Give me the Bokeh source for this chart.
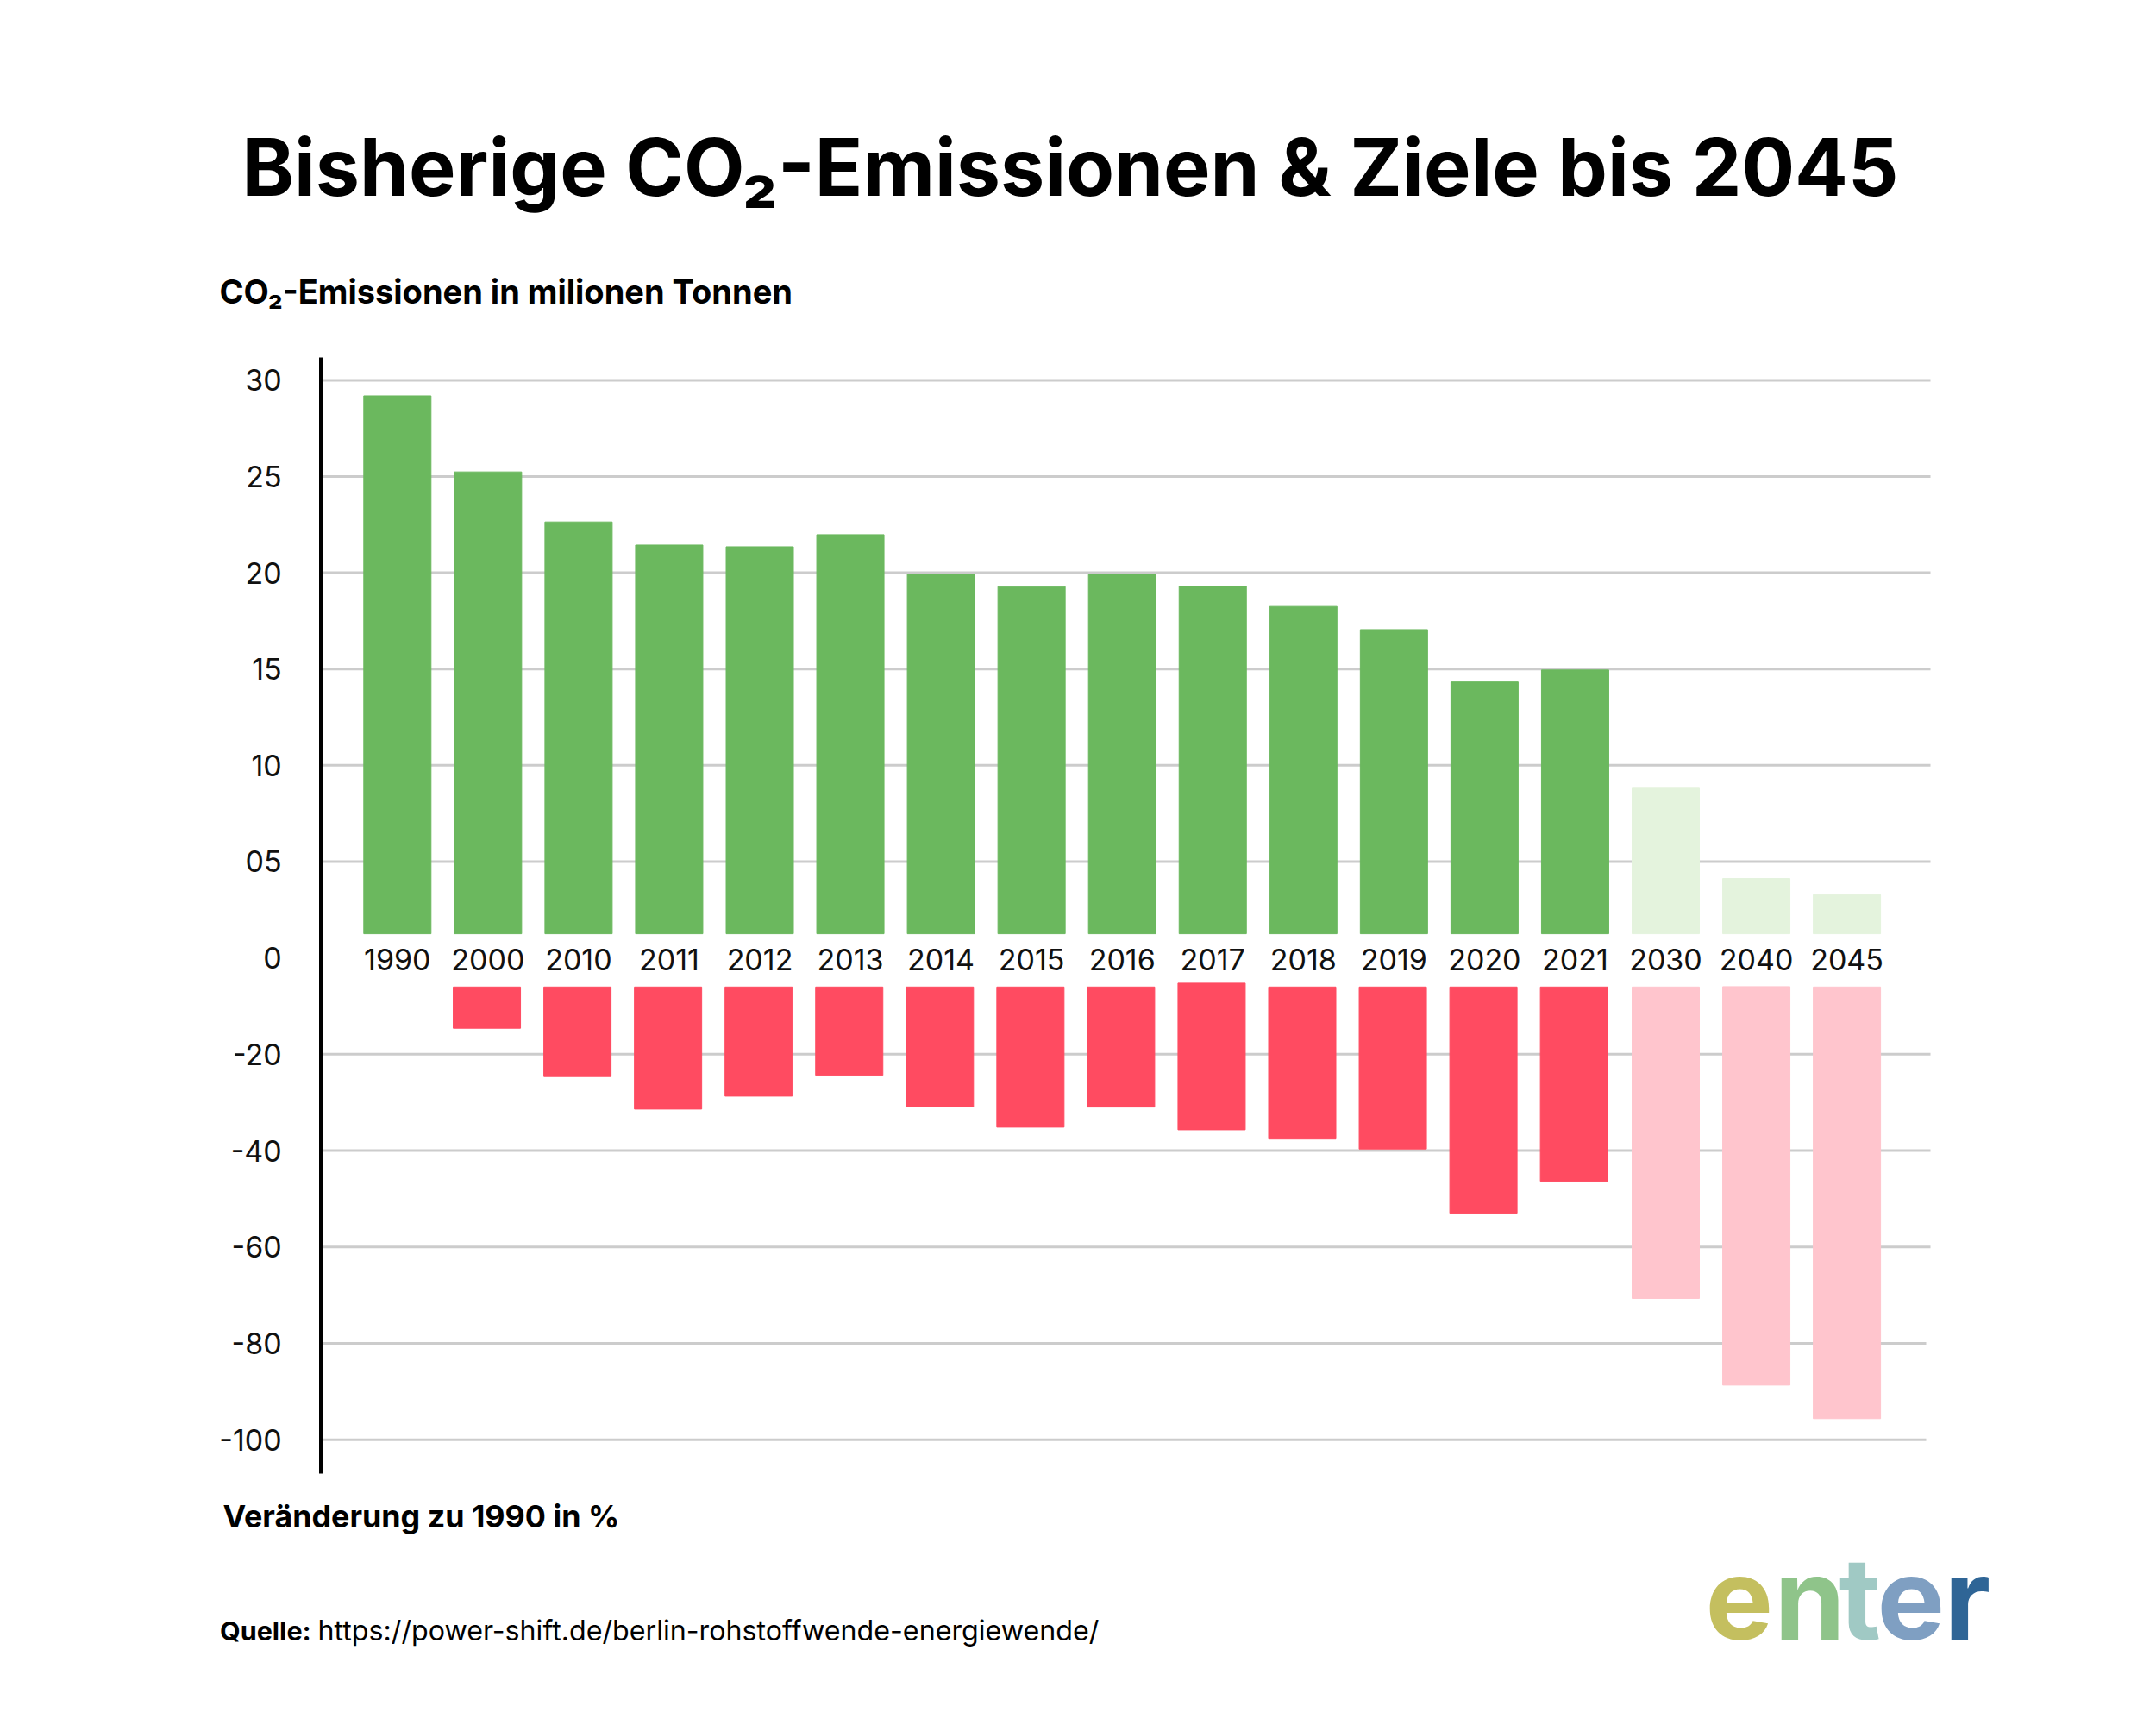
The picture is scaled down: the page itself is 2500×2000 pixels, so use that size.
from bokeh.models import ColumnDataSource, FixedTicker, Label, LinearAxis, Range1d
from bokeh.plotting import figure
from bokeh.transform import dodge
from bokeh.embed import file_html
from bokeh.resources import INLINE

# ---- data ----
years = ["1990", "2000", "2010", "2011", "2012", "2013", "2014", "2015", "2016",
         "2017", "2018", "2019", "2020", "2021", "2030", "2040", "2045"]
emissions = [29.19, 25.24, 22.64, 21.44, 21.35, 21.98, 19.93, 19.28, 19.91,
             19.29, 18.25, 17.05, 14.33, 14.95]
emissions_target = [8.81, 4.12, 3.28]
emissions_floor = 1.25
change = [-14.62, -24.64, -31.39, -28.71, -24.36, -30.91, -35.15, -30.98,
          -35.69, -37.62, -39.68, -52.99, -46.37]
change_target = [-70.69, -88.66, -95.62]
change_ceiling = [-6.05] * 8 + [-5.26] + [-6.05] * 4
change_target_ceiling = [-6.05, -5.98, -6.05]
emission_ticks = [0, 5, 10, 15, 20, 25, 30]
emission_tick_labels = {5: "05"}
change_ticks = [-20, -40, -60, -80, -100]
change_tick_labels = {t: str(t) for t in change_ticks}

TITLE = "Bisherige CO₂-Emissionen & Ziele bis 2045"
UNIT_TOP = "CO₂-Emissionen in milionen Tonnen"
UNIT_BOTTOM = "Veränderung zu 1990 in %"
SOURCE_BOLD = "Quelle:"
SOURCE_URL = "https://power-shift.de/berlin-rohstoffwende-energiewende/"
LOGO_LETTERS = ["e", "n", "t", "e", "r"]
LOGO_COLORS = ["#C4BF5F", "#8FC48A", "#A0C9C4", "#7F9FC2", "#2F6596"]

GREEN, GREEN_L = "#6BB85E", "#E4F3DD"
RED, RED_L = "#FF4B61", "#FFC5CD"
GRID = "#CCCCCC"
FONT = "Inter"

# ---- layout: the frame fills the canvas, so canvas pixels == frame pixels ----
W, H = 2484, 1984
ZERO = 1110.0             # y pixel of value 0
PX_E, PX_C = 22.32, 5.5875  # px per emission unit / per percent
STEP, X0 = 105.05, 460.3   # px per bar, x pixel of first bar centre
AXIS_X = 372.2

to_x = lambda px: (px - X0) / STEP
to_e = lambda py: (ZERO - py) / PX_E
to_c = lambda py: (ZERO - py) / PX_C

p = figure(width=W, height=H, output_backend="svg", toolbar_location=None,
           x_range=Range1d(to_x(0), to_x(W)), y_range=Range1d(to_e(H), to_e(0)),
           x_axis_type=None, y_axis_type=None, min_border=0)
p.extra_y_ranges = {"change": Range1d(to_c(H), to_c(0))}
p.outline_line_color = None
p.grid.visible = False

# horizontal rules (none at 0)
e_rules = [t for t in emission_ticks if t]
p.segment(x0=[to_x(AXIS_X)] * len(e_rules), x1=[to_x(2238)] * len(e_rules), y0=e_rules, y1=e_rules,
          line_color=GRID, line_width=3, level="underlay")
rule_end = [to_x(2238), to_x(2238), to_x(2238), to_x(2233), to_x(2233)]
p.segment(x0=[to_x(AXIS_X)] * len(change_ticks), x1=rule_end, y0=change_ticks, y1=change_ticks,
          line_color=GRID, line_width=3, level="underlay", y_range_name="change")

# bars
xs = list(range(len(years)))
n = len(emissions)
BAR = 78 / STEP
src_g = ColumnDataSource(dict(x=xs[:n], top=emissions, bottom=[emissions_floor] * n))
src_gt = ColumnDataSource(dict(x=xs[n:], top=emissions_target, bottom=[emissions_floor] * 3))
src_r = ColumnDataSource(dict(x=xs[1:n], top=change_ceiling, bottom=change))
src_rt = ColumnDataSource(dict(x=xs[n:], top=change_target_ceiling, bottom=change_target))
p.vbar(x="x", top="top", bottom="bottom", width=BAR, source=src_g, color=GREEN)
p.vbar(x="x", top="top", bottom="bottom", width=BAR, source=src_gt, color=GREEN_L)
p.vbar(x=dodge("x", -1.3 / STEP), top="top", bottom="bottom", width=BAR, source=src_r, color=RED, y_range_name="change")
p.vbar(x="x", top="top", bottom="bottom", width=BAR, source=src_rt, color=RED_L, y_range_name="change")

label_style = dict(major_tick_line_color=None, minor_tick_line_color=None, major_tick_out=0, minor_tick_out=0,
                   major_label_text_font=FONT, major_label_text_font_size="34px", major_label_text_color="#111111")

# y axes, both at the same place
ax_e = LinearAxis(ticker=FixedTicker(ticks=emission_ticks), major_label_overrides=emission_tick_labels,
                  fixed_location=to_x(AXIS_X), bounds=(to_e(1708), to_e(414)),
                  axis_line_color="black", axis_line_width=5, major_label_standoff=46, **label_style)
ax_c = LinearAxis(y_range_name="change", ticker=FixedTicker(ticks=change_ticks), major_label_overrides=change_tick_labels,
                  fixed_location=to_x(AXIS_X), axis_line_color=None, major_label_standoff=46, **label_style)
p.add_layout(ax_e, "left")
p.add_layout(ax_c, "left")

# year labels: an axis running through the chart at 0
ax_x = LinearAxis(ticker=FixedTicker(ticks=xs), major_label_overrides=dict(zip(xs, years)),
                  fixed_location=to_e(1099), axis_line_color=None, major_label_standoff=0, **label_style)
p.add_layout(ax_x, "below")


def text(x, y, s, size, bold=False, color="black", align="left", baseline="middle"):
    p.add_layout(Label(x=x, y=H - y, x_units="screen", y_units="screen", text=s,
                       text_font=FONT, text_font_size=f"{size}px",
                       text_font_style="bold" if bold else "normal", text_color=color,
                       text_align=align, text_baseline=baseline))


text(1240.5, 193, TITLE, 91.5, bold=True, align="center")
text(254, 337, UNIT_TOP, 38, bold=True)
text(258, 1757, UNIT_BOTTOM, 35.8, bold=True)
text(254.5, 1890, SOURCE_BOLD, 30.5, bold=True)
text(368, 1890, SOURCE_URL, 32.2)
for ch, col, px in zip(LOGO_LETTERS, LOGO_COLORS, [1977, 2057, 2132, 2176, 2254]):
    text(px, 1852, ch, 132, bold=True, color=col, baseline="alphabetic")

open("out.html", "w").write(file_html(p, INLINE))
